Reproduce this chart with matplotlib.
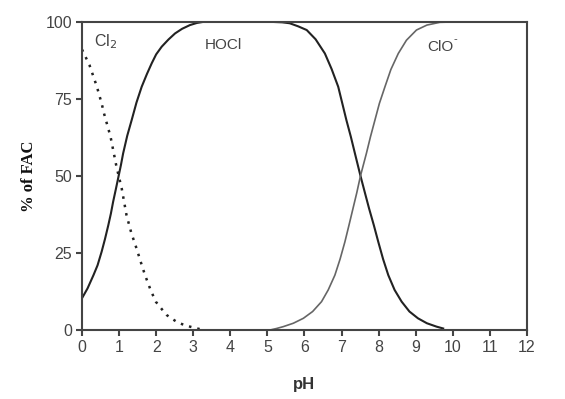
import matplotlib
matplotlib.use("Agg")
import matplotlib.pyplot as plt

# Data
ph_cl2 = [0.0, 0.2, 0.4, 0.53, 0.6, 0.77, 0.93, 1.07, 1.2, 1.33, 1.47, 1.6, 1.7, 1.85,
          1.99, 2.15, 2.28, 2.42, 2.55, 2.7, 2.91, 3.1, 3.3]
pct_cl2 = [91, 86, 79, 73.5, 70, 62.7, 53, 46, 37.3, 31.5, 26.5, 21.5, 17.8, 13,
           9.2, 6.8, 4.9, 3.7, 2.7, 1.9, 1.1, 0.5, 0.0]

ph_hocl = [0.0, 0.15, 0.31, 0.42, 0.53, 0.62, 0.71, 0.78, 0.84, 0.91, 0.98, 1.05, 1.11,
           1.22, 1.34, 1.47, 1.61, 1.75, 1.88, 2.0, 2.15, 2.33, 2.51, 2.7, 2.91, 3.1,
           3.3, 4.0, 5.0, 5.4, 5.6, 5.83, 6.06, 6.3, 6.55, 6.73, 6.91, 7.02, 7.13,
           7.25, 7.36, 7.51, 7.63, 7.74, 7.87, 7.99, 8.12, 8.26, 8.43, 8.62, 8.83,
           9.06, 9.3, 9.56, 9.74]
pct_hocl = [10.3, 13.5, 17.8, 21, 25.4, 29.5, 34, 37.8, 41.6, 45.5, 49.5, 53.5, 57.3,
            63, 68.1, 73.8, 78.9, 83, 86.5, 89.4, 91.9, 94.2, 96.2, 97.7, 98.9, 99.6,
            100, 100, 100, 99.8, 99.5, 98.5, 97.3, 94.3, 89.7, 84.7, 78.9, 73.5, 68.1,
            62.7, 57.3, 50, 44.5, 39.5, 34, 28.6, 23, 17.8, 13, 9.2, 6,
            3.8, 2.2, 1.1, 0.5]

ph_ocl = [5.07, 5.25, 5.43, 5.7, 5.97, 6.22, 6.46, 6.64, 6.82, 6.96, 7.09, 7.2, 7.31,
          7.41, 7.51, 7.67, 7.78, 7.9, 8.02, 8.17, 8.33, 8.53, 8.75, 9.02, 9.3, 9.65, 10.3]
pct_ocl = [0.0, 0.5, 1.1, 2.2, 3.8, 6, 9.2, 13, 17.8, 23, 28.6, 34, 39.5,
           44.5, 50, 57.3, 62.7, 68.1, 73.5, 78.9, 84.5, 89.7, 94, 97.3, 98.9, 99.8, 100]

x_ticks = list(range(0, 13))
y_ticks = [0, 25, 50, 75, 100]

fig = plt.figure(figsize=(5.65, 3.99), dpi=100)
ax = fig.add_axes([0.1451, 0.1729, 0.7876, 0.7727])

ax.plot(ph_hocl, pct_hocl, color="#222222", lw=1.5, solid_joinstyle="round")
ax.plot(ph_ocl, pct_ocl, color="#666666", lw=1.2, solid_joinstyle="round")
ax.plot(ph_cl2, pct_cl2, color="#222222", lw=1.8, linestyle=(0, (1, 2.4)))

ax.set_xlim(0, 12)
ax.set_ylim(0, 100)
ax.set_xticks(x_ticks)
ax.set_yticks(y_ticks)
ax.tick_params(axis="both", direction="out", length=4, width=1.5, colors="#444444",
               labelsize=11.5, labelcolor="#444444", pad=3)
for lab in ax.get_xticklabels() + ax.get_yticklabels():
    lab.set_family("Liberation Sans")
for sp in ax.spines.values():
    sp.set_color("#444444")
    sp.set_linewidth(1.5)

ax.text(0.32, 93.4, "Cl$_2$", fontsize=11.5, color="#444444", family="Liberation Sans",
        va="center", ha="left")
ax.text(3.3, 92.4, "HOCl", fontsize=11, color="#444444", family="Liberation Sans",
        va="center", ha="left")
ax.text(9.3, 91.8, "ClO", fontsize=11, color="#444444", family="Liberation Sans",
        va="center", ha="left")
ax.text(10.02, 94.3, "-", fontsize=8, color="#444444", family="Liberation Sans",
        va="center", ha="left")

ax.set_xlabel("pH", fontsize=12, fontweight="bold", family="Liberation Sans",
              color="#333333", labelpad=16)
ax.set_ylabel("% of FAC", fontsize=12, fontweight="bold", family="Liberation Serif",
              color="#111111", labelpad=6)

fig.savefig("out.png", dpi=100)
